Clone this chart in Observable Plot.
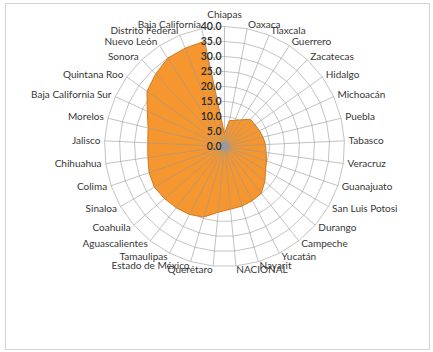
<!DOCTYPE html>
<html>
<head>
<meta charset="utf-8">
<script src="https://cdn.jsdelivr.net/npm/d3@7"></script>
<script src="https://cdn.jsdelivr.net/npm/@observablehq/plot@0.6"></script>
<style>
  html, body { margin: 0; padding: 0; background: #fff; }
  #chart { width: 433px; height: 352px; }
</style>
</head>
<body>
<div id="chart"></div>
<script>
const categories = [
  "Chiapas", "Oaxaca", "Tlaxcala", "Guerrero", "Zacatecas", "Hidalgo",
  "Michoacán", "Puebla", "Tabasco", "Veracruz", "Guanajuato", "San Luis Potosi",
  "Durango", "Campeche", "Yucatán", "Nayarit", "NACIONAL", "Querétaro",
  "Estado de México", "Tamaulipas", "Aguascalientes", "Coahuila", "Sinaloa",
  "Colima", "Chihuahua", "Jalisco", "Morelos", "Baja California Sur",
  "Quintana Roo", "Sonora", "Nuevo León", "Distrito Federal", "Baja California"
];
const values = [
  4.5, 8.8, 9.4, 10.6, 12.5, 12.5,
  12.8, 13.2, 13.7, 14.0, 14.8, 15.8,
  17.8, 19.8, 20.3, 20.7, 21.0, 22.0,
  24.5, 25.5, 26.0, 26.5, 27.0,
  26.6, 25.8, 25.6, 26.2, 28.3,
  31.7, 33.3, 35.0, 35.3, 35.7
];
const tickValues = [0, 5, 10, 15, 20, 25, 30, 35, 40];
const tickLabels = ["0.0", "5.0", "10.0", "15.0", "20.0", "25.0", "30.0", "35.0", "40.0"];

const n = categories.length;
const maxR = 40;
const labelR = 41.4;
const ang = i => i * 2 * Math.PI / n;

const points = categories.map((c, i) => ({
  cat: c, value: values[i],
  x: values[i] * Math.sin(ang(i)), y: values[i] * Math.cos(ang(i))
}));
const rings = tickValues.filter(v => v > 0).flatMap(v =>
  categories.map((c, i) => ({ v, x: v * Math.sin(ang(i)), y: v * Math.cos(ang(i)) }))
);
const spokes = categories.map((c, i) => ({
  x2: maxR * Math.sin(ang(i)), y2: maxR * Math.cos(ang(i))
}));
const labels = categories.map((c, i) => ({
  cat: c, s: Math.sin(ang(i)),
  x: labelR * Math.sin(ang(i)), y: labelR * Math.cos(ang(i))
}));
const ticks = tickValues.map((v, k) => ({ v, label: tickLabels[k] }));

const font = "Lato, 'Open Sans', sans-serif";
const txt = "#363636";

const chart = Plot.plot({
  width: 433,
  height: 352,
  margin: 0,
  x: { domain: [-224 / 3, 209 / 3], axis: null },
  y: { domain: [-206 / 3, 146 / 3], axis: null },
  style: { fontFamily: font, fontSize: "10px", background: "#fff", overflow: "visible" },
  marks: [
    Plot.frame({ stroke: "#d4d4d4", insetLeft: 5, insetTop: 3, insetRight: 4, insetBottom: 3 }),
    Plot.line(rings, { x: "x", y: "y", z: "v", curve: "linear-closed", stroke: "#c4c4c4", strokeWidth: 1 }),
    Plot.line(points, { x: "x", y: "y", curve: "linear-closed", fill: "#F5962E", stroke: "#D8761A", strokeWidth: 1 }),
    Plot.link(spokes, { x1: 0, y1: 0, x2: "x2", y2: "y2", stroke: "#9a9a9a", strokeOpacity: 0.6, strokeWidth: 1 }),
    Plot.dot([{ x: 0, y: 0 }], { x: "x", y: "y", r: 5, fill: "#9b9b9b", stroke: null }),
    Plot.text(ticks, { x: 0, y: "v", text: "label", dx: -3, textAnchor: "end", fill: "#2a2a2a", fontSize: 10.5, fontWeight: 600 }),
    Plot.text(labels.filter(d => d.s > 0.01), { x: "x", y: "y", text: "cat", textAnchor: "start", fill: txt }),
    Plot.text(labels.filter(d => d.s < -0.01), { x: "x", y: "y", text: "cat", textAnchor: "end", fill: txt }),
    Plot.text(labels.filter(d => Math.abs(d.s) <= 0.01), { x: "x", y: "y", text: "cat", textAnchor: "middle", dy: -8, fill: txt })
  ]
});
document.getElementById("chart").appendChild(chart);
</script>
</body>
</html>
